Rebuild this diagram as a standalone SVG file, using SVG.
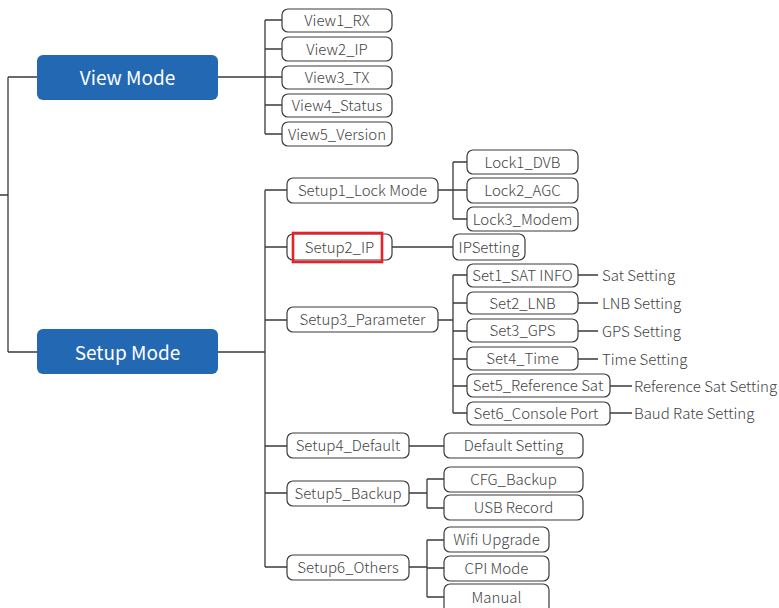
<svg xmlns="http://www.w3.org/2000/svg" width="779" height="608" viewBox="0 0 779 608">
<style>
.main{fill:#2368b3;stroke:none}
.mt{fill:#fff;font-family:"Noto Sans CJK SC","Noto Sans",sans-serif;font-size:19px;text-anchor:middle;dominant-baseline:central}
.b{fill:#fff;stroke:#3a3a3a;stroke-width:1.2}
.t{fill:#444;font-family:"Noto Sans CJK SC","Noto Sans",sans-serif;font-weight:300;font-size:15px;text-anchor:middle;dominant-baseline:central}
.l{fill:#444;font-family:"Noto Sans CJK SC","Noto Sans",sans-serif;font-weight:300;font-size:15px;dominant-baseline:central}
.c{fill:none;stroke:#3a3a3a;stroke-width:1.3}
</style>
<g id="connectors" class="c">
<path d="M0 195H8M8 77V352M8 77H37M8 352H37"/>
<path d="M218 77H265M265 20V134M265 20H282M265 49H282M265 105H282M265 134H282M265 77H282"/>
<path d="M218 352H265M265 190V567M265 190H287M265 247H287M265 320H287M265 446H287M265 493H287M265 567H287"/>
<path d="M438 190H467M453 162V219M453 162H467M453 219H467"/>
<path d="M392 247H453"/>
<path d="M438 320H453M453 275V413M453 275H467M453 303H467M453 331H467M453 359H467M453 386H467M453 413H467"/>
<path d="M578 275H598M578 303H598M578 331H598M578 359H598M610 386H632M610 413H632"/>
<path d="M409 446H444"/>
<path d="M409 493H427M427 479V508M427 479H444M427 508H444"/>
<path d="M409 567H427M427 540V597M427 540H444M427 568H444M427 597H444"/>
</g>
<g id="view-mode"><rect class="main" x="37" y="55" width="181" height="45" rx="6"/><text class="mt" x="127.5" y="76.5">View Mode</text></g>
<g id="setup-mode"><rect class="main" x="37" y="329" width="181" height="45" rx="6"/><text class="mt" x="127.5" y="351">Setup Mode</text></g>
<g id="view1"><rect class="b" x="282" y="9" width="110" height="23" rx="6"/><text class="t" x="337" y="19.5">View1_RX</text></g>
<g id="view2"><rect class="b" x="282" y="37" width="110" height="24" rx="6"/><text class="t" x="337" y="48">View2_IP</text></g>
<g id="view3"><rect class="b" x="282" y="66" width="110" height="23" rx="6"/><text class="t" x="337" y="76.5">View3_TX</text></g>
<g id="view4"><rect class="b" x="282" y="94" width="110" height="23" rx="6"/><text class="t" x="337" y="104.5">View4_Status</text></g>
<g id="view5"><rect class="b" x="282" y="122" width="110" height="24" rx="6"/><text class="t" x="337" y="133">View5_Version</text></g>
<g id="setup1"><rect class="b" x="287" y="178" width="151" height="25" rx="6"/><text class="t" x="362.5" y="189.5">Setup1_Lock Mode</text></g>
<g id="setup2"><rect class="b" x="287" y="234" width="105" height="26" rx="6"/><text class="t" x="339.5" y="246">Setup2_IP</text><rect x="293" y="233" width="89" height="29" fill="none" stroke="#e8202a" stroke-width="2.6"/></g>
<g id="setup3"><rect class="b" x="287" y="307" width="151" height="25" rx="6"/><text class="t" x="362.5" y="318.5">Setup3_Parameter</text></g>
<g id="setup4"><rect class="b" x="287" y="433" width="122" height="25" rx="6"/><text class="t" x="348" y="444.5">Setup4_Default</text></g>
<g id="setup5"><rect class="b" x="287" y="481" width="122" height="25" rx="6"/><text class="t" x="348" y="492">Setup5_Backup</text></g>
<g id="setup6"><rect class="b" x="287" y="555" width="122" height="25" rx="6"/><text class="t" x="348" y="566">Setup6_Others</text></g>
<g id="lock1"><rect class="b" x="467" y="150" width="111" height="24" rx="6"/><text class="t" x="522.5" y="161">Lock1_DVB</text></g>
<g id="lock2"><rect class="b" x="467" y="178" width="111" height="25" rx="6"/><text class="t" x="522.5" y="189.5">Lock2_AGC</text></g>
<g id="lock3"><rect class="b" x="467" y="207" width="111" height="24" rx="6"/><text class="t" x="522.5" y="218">Lock3_Modem</text></g>
<g id="ipsetting"><rect class="b" x="453" y="234" width="72" height="26" rx="6"/><text class="t" x="489" y="246">IPSetting</text></g>
<g id="set1"><rect class="b" x="467" y="264" width="111" height="23" rx="6"/><text class="t" x="522.5" y="274.5">Set1_SAT INFO</text></g>
<g id="set2"><rect class="b" x="467" y="292" width="111" height="22" rx="6"/><text class="t" x="522.5" y="302">Set2_LNB</text></g>
<g id="set3"><rect class="b" x="467" y="319" width="111" height="23" rx="6"/><text class="t" x="522.5" y="329.5">Set3_GPS</text></g>
<g id="set4"><rect class="b" x="467" y="347" width="111" height="23" rx="6"/><text class="t" x="522.5" y="357.5">Set4_Time</text></g>
<g id="set5"><rect class="b" x="467" y="374" width="143" height="23" rx="6"/><text class="t" x="538" y="384.5">Set5_Reference Sat</text></g>
<g id="set6"><rect class="b" x="467" y="402" width="143" height="23" rx="6"/><text class="t" x="536" y="412">Set6_Console Port</text></g>
<g id="sat-setting"><text class="l" x="602" y="274">Sat Setting</text></g>
<g id="lnb-setting"><text class="l" x="602" y="302">LNB Setting</text></g>
<g id="gps-setting"><text class="l" x="602" y="330">GPS Setting</text></g>
<g id="time-setting"><text class="l" x="602" y="358">Time Setting</text></g>
<g id="refsat-setting"><text class="l" x="634" y="385">Reference Sat Setting</text></g>
<g id="baud-setting"><text class="l" x="634" y="412">Baud Rate Setting</text></g>
<g id="default-setting"><rect class="b" x="444" y="433" width="139" height="25" rx="6"/><text class="t" x="513.5" y="444.5">Default Setting</text></g>
<g id="cfg-backup"><rect class="b" x="444" y="467" width="139" height="25" rx="6"/><text class="t" x="513.5" y="478">CFG_Backup</text></g>
<g id="usb-record"><rect class="b" x="444" y="495" width="139" height="25" rx="6"/><text class="t" x="513.5" y="506.5">USB Record</text></g>
<g id="wifi-upgrade"><rect class="b" x="444" y="527" width="105" height="25" rx="6"/><text class="t" x="496.5" y="538.5">Wifi Upgrade</text></g>
<g id="cpi-mode"><rect class="b" x="444" y="556" width="105" height="25" rx="6"/><text class="t" x="496.5" y="567">CPI Mode</text></g>
<g id="manual"><rect class="b" x="444" y="584" width="105" height="30" rx="6"/><text class="t" x="496.5" y="596">Manual</text></g>
</svg>
